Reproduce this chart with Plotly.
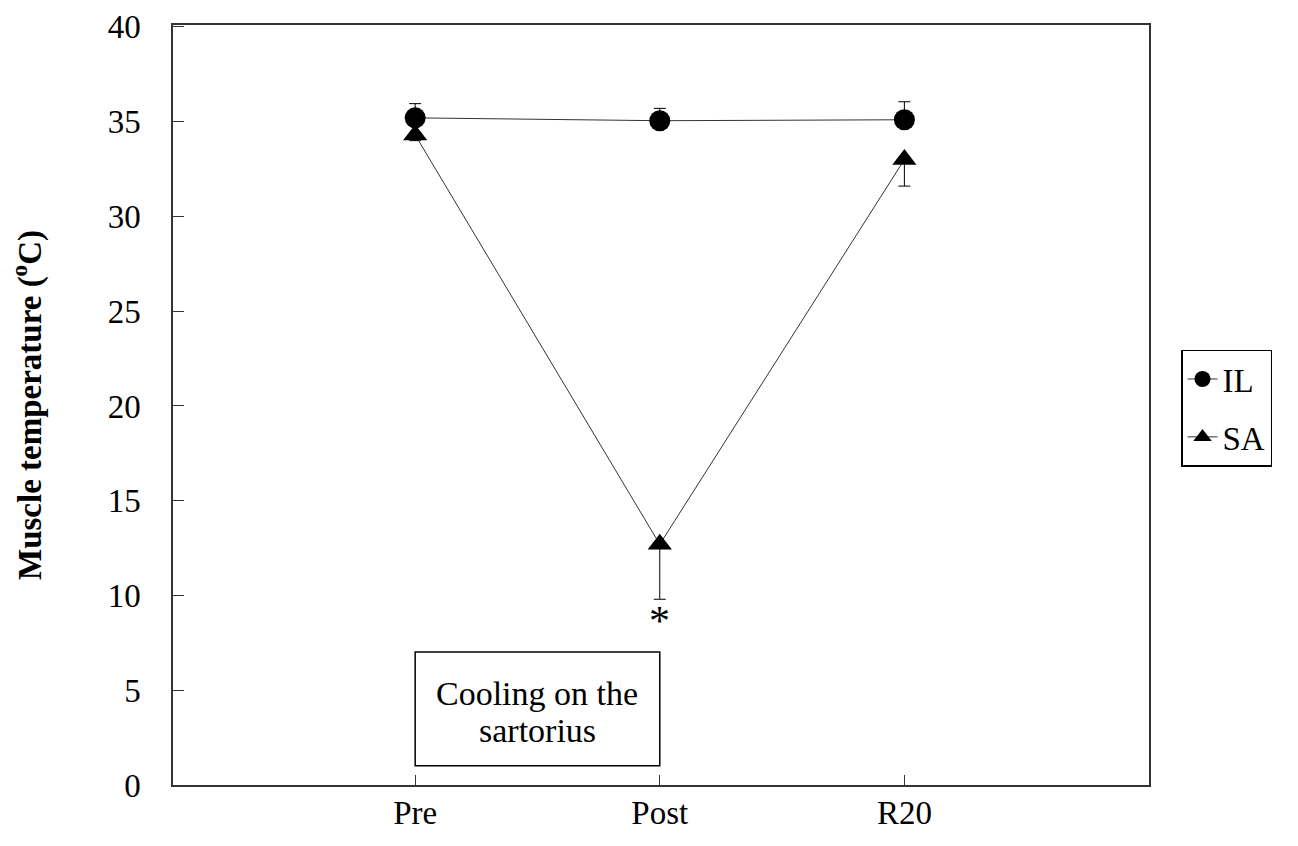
import plotly.graph_objects as go

categories = ["Pre", "Post", "R20"]
il_values = [35.2, 35.05, 35.1]
il_err = [0.75, 0.65, 0.95]
sa_values = [34.3, 12.7, 33.0]
sa_err = [0.3, 2.9, 1.4]
y_ticks = [0, 5, 10, 15, 20, 25, 30, 35, 40]
box_lines = ["Cooling on the", "sartorius"]

xpos = list(range(len(categories)))
font = "Liberation Serif, Times New Roman, serif"

fig = go.Figure()
fig.add_trace(go.Scatter(
    x=xpos, y=il_values, name="IL", mode="lines+markers", legendgroup="a",
    line=dict(color="#333333", width=1),
    marker=dict(symbol="circle", size=21, color="black"),
    error_y=dict(type="data", symmetric=False, array=il_err,
                 arrayminus=[0] * 3, color="black", thickness=1, width=6),
))
fig.add_trace(go.Scatter(
    x=xpos, y=sa_values, name="SA", mode="lines+markers", legendgroup="b",
    line=dict(color="#333333", width=1),
    marker=dict(symbol="triangle-up", size=21, color="black"),
    error_y=dict(type="data", symmetric=False, array=[0] * 3,
                 arrayminus=sa_err, color="black", thickness=1, width=6),
))

fig.add_annotation(x=1, y=sa_values[1] - sa_err[1], text="*", showarrow=False,
                   yshift=-22, font=dict(family=font, size=42, color="black"))
fig.add_shape(type="rect", x0=0, x1=1, y0=1.02, y1=7.02, xref="x", yref="y",
              line=dict(color="black", width=1.5), fillcolor="white")
fig.add_annotation(x=0.5, y=4.85, text=box_lines[0], showarrow=False,
                   font=dict(family=font, size=34, color="black"))
fig.add_annotation(x=0.5, y=2.85, text=box_lines[1], showarrow=False,
                   font=dict(family=font, size=34, color="black"))

fig.update_layout(
    width=1298, height=846,
    margin=dict(l=173, r=149, t=25, b=61),
    paper_bgcolor="white", plot_bgcolor="white",
    font=dict(family=font, color="black", size=33),
    showlegend=True,
    legend=dict(x=1.0328, y=0.496, xanchor="left", yanchor="middle",
                bordercolor="black", borderwidth=1.5,
                font=dict(family=font, size=33, color="black"),
                tracegroupgap=12, itemwidth=30),
)
fig.update_xaxes(
    range=[-0.99, 3.0], tickvals=xpos, ticktext=categories,
    showline=True, mirror=True, linecolor="#333333", linewidth=1.5,
    ticks="inside", ticklen=10, tickcolor="#333333", showgrid=False, zeroline=False,
    tickfont=dict(family=font, size=33), ticklabelstandoff=-2, automargin=False,
)
fig.update_yaxes(
    range=[0, 40.1], tickvals=y_ticks,
    showline=True, mirror=True, linecolor="#333333", linewidth=1.5,
    ticks="inside", ticklen=11, tickcolor="#333333", showgrid=False, zeroline=False,
    tickfont=dict(family=font, size=33), ticklabelstandoff=24, automargin=False,
    title=dict(text="<b>Muscle temperature (<sup>o</sup>C)</b>", standoff=56,
               font=dict(family=font, size=33)),
)

fig.write_html("out.html")
